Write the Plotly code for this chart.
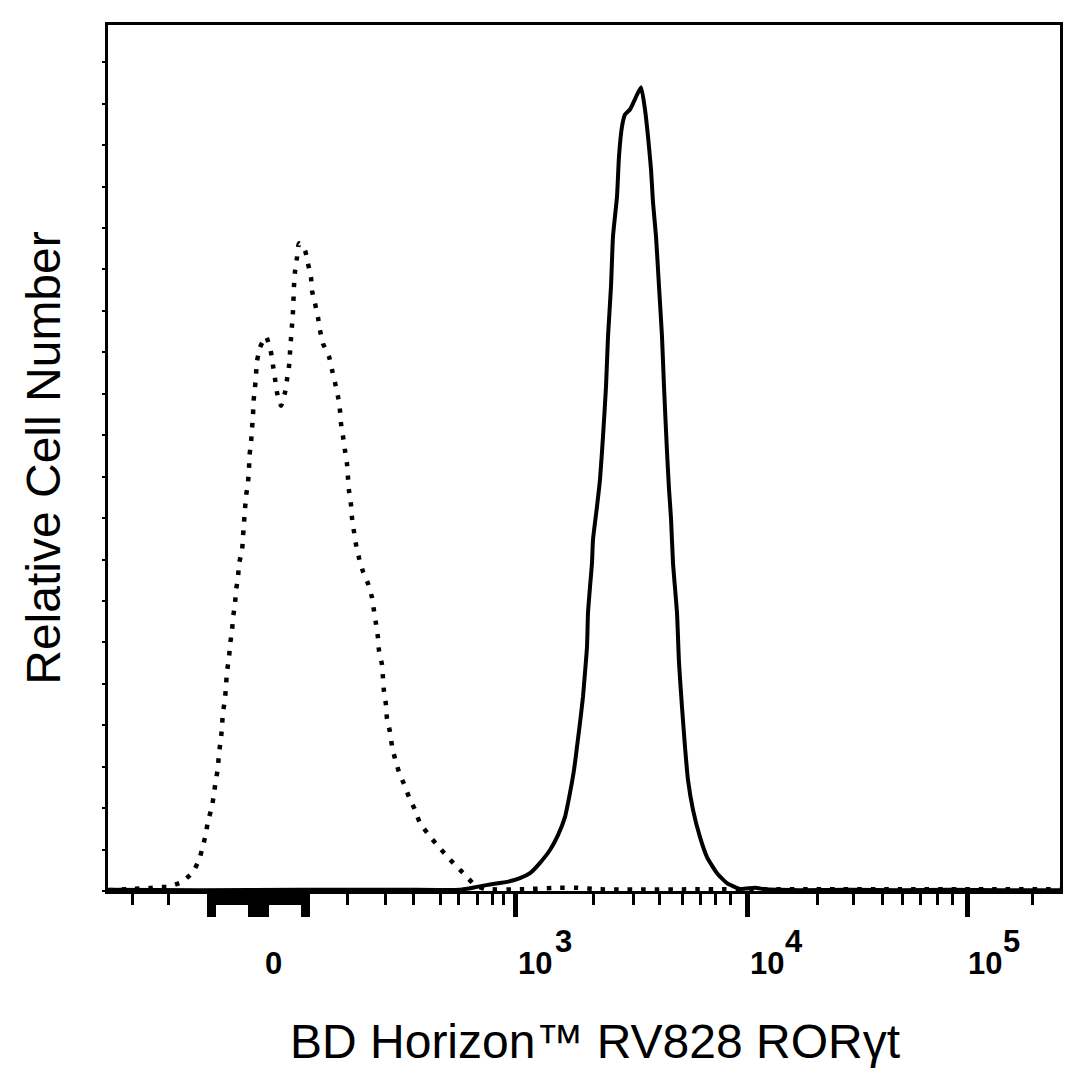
import plotly.graph_objects as go

# ---- data (x in display channels of the biexponential axis, y in relative cell counts) ----
stained_x = [0, 92, 192, 292, 352, 369, 385, 399, 412, 422, 432, 442, 450, 457, 462,
             466, 469, 472, 475, 477, 479, 480, 482, 484, 485, 489, 492, 495, 498, 500,
             503, 505, 509, 511, 514, 517, 522, 527, 533, 537, 540, 543, 545, 548, 551,
             554, 556, 559, 561, 563, 565, 569, 571, 574, 577, 580, 585, 592, 599, 609,
             619, 632, 647, 657, 672, 692, 742, 792, 842, 892, 952]
stained_y = [0.3, 0.2, 0.3, 0.3, 0.3, 1.0, 1.7, 2.2, 3.1, 4.3, 6.8, 9.9, 13.5, 17.9, 23.7,
             29.2, 34.8, 40.6, 46.9, 52.7, 58.9, 67.1, 73.4, 79.2, 84.8, 92.8, 99.3, 109.7, 121.7, 133.8,
             145.9, 158.0, 167.6, 177.3, 184.5, 187.4, 188.6, 191.1, 194.0, 188.6, 182.1, 174.2, 166.2, 158.0, 145.9,
             133.8, 121.7, 106.0, 97.0, 90.0, 79.2, 67.1, 55.1, 44.4, 34.8, 26.8, 19.6, 13.0, 8.2, 4.3,
             1.9, 0.5, 0.8, 0.4, 0.3, 0.2, 0.3, 0.2, 0.3, 0.2, 0.2]

control_x = [0, 22, 42, 52, 60, 74, 85, 91, 95, 98, 100, 104, 106, 108, 110, 111, 113, 114, 115,
             117, 118, 119, 121, 122, 124, 125, 127, 128, 130, 131, 134, 135, 136, 137, 138, 140,
             141, 141.5, 143, 144, 145, 145.5, 147, 148, 149, 152, 158, 163, 165, 167, 169, 173,
             177, 179, 181, 182, 183, 184, 185, 185.5, 186, 187, 189, 191, 197, 200, 203, 204,
             207, 210, 212, 215, 221, 224, 227, 230, 232, 233, 235, 237, 239, 240, 241, 243, 244,
             246, 248, 251, 255, 260, 264, 266, 268, 270, 271, 274, 275, 276, 278, 279, 282, 284,
             287, 291, 296, 301, 307, 312, 320, 328, 338, 347, 357, 367, 377, 412, 452, 467, 492,
             592, 692, 792, 892, 952]
control_y = [0.2, 0.5, 0.7, 1.0, 1.0, 2.2, 4.6, 7.5, 10.9, 14.0, 16.9, 20.3, 23.7, 26.8, 30.0, 33.3, 36.7, 39.9, 43.0,
             46.4, 49.5, 52.9, 56.3, 59.4, 62.8, 65.9, 69.3, 72.5, 75.6, 79.0, 82.1, 85.5, 88.9, 92.0, 95.2, 98.6,
             101.9, 105.1, 108.2, 111.6, 114.7, 118.1, 121.5, 124.6, 127.8, 131.2, 133.8, 130.0, 126.8, 123.7, 120.3, 117.1,
             120.3, 123.4, 126.6, 130.0, 133.3, 136.5, 139.9, 143.0, 146.1, 149.5, 152.9, 156.3, 154.6, 151.4, 148.1, 144.9,
             141.8, 138.4, 135.3, 132.1, 129.0, 125.8, 122.7, 119.3, 115.9, 112.8, 109.7, 106.3, 103.1, 99.8, 96.6, 93.2, 90.1,
             86.7, 83.6, 80.4, 77.1, 74.2, 70.8, 67.6, 64.5, 61.1, 58.0, 54.6, 51.4, 48.1, 44.9, 41.5, 38.4, 35.0,
             31.9, 28.7, 25.8, 22.7, 19.6, 16.4, 13.8, 11.4, 8.7, 6.3, 3.9, 1.4, 0.5, 0.4, 0.8, 0.8, 0.4,
             0.4, 0.4, 0.4, 0.4, 0.4]

# axis tick positions (display channels)
major_ticks = [100, 103, 106, 141, 144, 147, 150, 153, 156, 159, 194, 197, 200,
               406, 408, 638, 640, 858, 860]
minor_ticks = [24, 60, 108, 111, 114, 117, 120, 123, 126, 129, 132, 135, 138,
               161, 164, 167, 170, 173, 176, 179, 182, 185, 188, 191,
               239, 277, 305, 332, 350, 369, 384, 395,
               485, 525, 551, 574, 592, 607, 622,
               709, 745, 774, 794, 812, 829, 844, 924]
label_base = [("0", 165), ("10", 427), ("10", 659), ("10", 877)]
label_exp = [("3", 455), ("4", 686), ("5", 903)]
y_ticks = list(range(0, 210, 10))

fig = go.Figure()
fig.add_trace(go.Scatter(x=control_x, y=control_y, mode="lines",
                         line=dict(color="black", width=4.5, dash="4.5px,9px",
                                   shape="spline", smoothing=0.5),
                         name="Isotype control", showlegend=False))
fig.add_trace(go.Scatter(x=stained_x, y=stained_y, mode="lines",
                         line=dict(color="black", width=4, shape="spline", smoothing=0.5),
                         name="RORγt", showlegend=False))

label_font = dict(family="Liberation Sans", size=31, color="black", weight="bold")
annotations = []
for txt, xv in label_base:
    annotations.append(dict(x=xv, y=0, xref="x", yref="y", text=txt, showarrow=False,
                            yanchor="middle", xanchor="center", yshift=-72, font=label_font))
for txt, xv in label_exp:
    annotations.append(dict(x=xv, y=0, xref="x", yref="y", text=txt, showarrow=False,
                            yanchor="middle", xanchor="center", yshift=-50, font=label_font))
# x-axis title
annotations.append(dict(x=0.5116, y=0, xref="paper", yref="paper",
                        text="BD Horizon™ RV828 RORγt", showarrow=False,
                        xanchor="center", yanchor="middle", yshift=-150,
                        font=dict(family="Liberation Sans", size=48, color="black")))

fig.update_layout(
    width=1085, height=1085, autosize=False,
    margin=dict(l=100, r=33, t=17, b=202),
    paper_bgcolor="white", plot_bgcolor="white",
    showlegend=False,
    annotations=annotations,
    font=dict(family="Liberation Sans", color="black"),
)
fig.update_xaxes(
    range=[0, 952], showgrid=False, zeroline=False,
    showline=True, linecolor="black", linewidth=3, mirror=True,
    tickmode="array", tickvals=major_ticks, ticks="outside", ticklen=23, tickwidth=3,
    tickcolor="black", showticklabels=False,
    minor=dict(tickmode="array", tickvals=minor_ticks, ticks="outside", ticklen=11,
               tickwidth=3, tickcolor="black", showgrid=False),
)
fig.update_yaxes(
    range=[0, 209], showgrid=False, zeroline=False,
    showline=True, linecolor="black", linewidth=3, mirror=True,
    tickmode="array", tickvals=y_ticks, ticks="outside", ticklen=3, tickwidth=2,
    tickcolor="black", showticklabels=False,
    title=dict(text="Relative Cell Number", standoff=27,
               font=dict(family="Liberation Sans", size=48, color="black")),
)

fig.write_html("out.html")
